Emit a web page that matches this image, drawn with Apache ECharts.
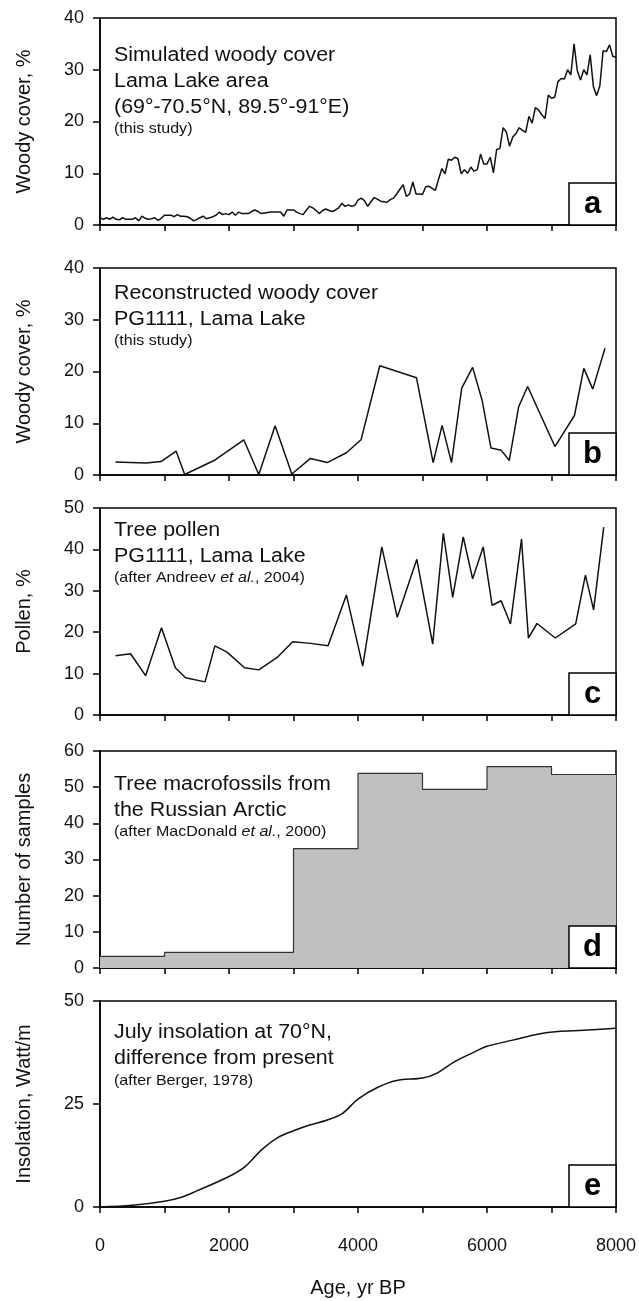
<!DOCTYPE html>
<html>
<head>
<meta charset="utf-8">
<script src="https://cdn.jsdelivr.net/npm/echarts@6/dist/echarts.min.js"></script>
<style>
html, body { margin: 0; padding: 0; background: #fff; }
#chart { width: 639px; height: 1301px; }
</style>
</head>
<body>
<div id="chart"></div>
<script>
// a: simulated woody cover (model output, 50-yr steps)
var simAge = [0, 50, 100, 150, 200, 250, 300, 350, 400, 450,
    500, 550, 600, 650, 700, 750, 800, 850, 900, 950,
    1000, 1050, 1100, 1150, 1200, 1250, 1300, 1350, 1400, 1450,
    1500, 1550, 1600, 1650, 1700, 1750, 1800, 1850, 1900, 1950,
    2000, 2050, 2100, 2150, 2200, 2250, 2300, 2350, 2400, 2450,
    2500, 2550, 2600, 2650, 2700, 2750, 2800, 2850, 2900, 2950,
    3000, 3050, 3100, 3150, 3200, 3250, 3300, 3350, 3400, 3450,
    3500, 3550, 3600, 3650, 3700, 3750, 3800, 3850, 3900, 3950,
    4000, 4050, 4100, 4150, 4200, 4250, 4300, 4350, 4400, 4450,
    4500, 4550, 4600, 4650, 4700, 4750, 4800, 4850, 4900, 4950,
    5000, 5050, 5100, 5150, 5200, 5250, 5300, 5350, 5400, 5450,
    5500, 5550, 5600, 5650, 5700, 5750, 5800, 5850, 5900, 5950,
    6000, 6050, 6100, 6150, 6200, 6250, 6300, 6350, 6400, 6450,
    6500, 6550, 6600, 6650, 6700, 6750, 6800, 6850, 6900, 6950,
    7000, 7050, 7100, 7150, 7200, 7250, 7300, 7350, 7400, 7450,
    7500, 7550, 7600, 7650, 7700, 7750, 7800, 7850, 7900, 7950,
    8000];
var simCover = [1.4, 1.1, 1.4, 1.1, 1.5, 1.1, 1.0, 1.4, 1.1, 1.1,
    1.1, 1.4, 0.8, 1.7, 1.3, 1.1, 1.2, 1.4, 0.9, 1.3,
    1.9, 1.9, 1.9, 1.6, 2.0, 1.7, 1.7, 1.6, 1.3, 0.8,
    1.1, 1.4, 1.7, 1.2, 1.4, 1.6, 1.9, 2.5, 2.0, 2.2,
    2.0, 2.5, 1.9, 2.5, 2.2, 2.2, 2.2, 2.6, 2.9, 2.6,
    2.2, 2.3, 2.4, 2.5, 2.5, 2.5, 2.5, 1.7, 2.9, 2.9,
    2.9, 2.5, 2.2, 2.0, 2.9, 3.6, 3.3, 2.8, 2.2, 2.8,
    3.1, 2.8, 2.6, 2.9, 3.3, 4.2, 3.6, 3.9, 3.6, 3.8,
    4.8, 5.2, 4.7, 3.6, 4.5, 5.3, 5.0, 4.6, 4.5, 4.4,
    4.9, 5.2, 6.0, 6.9, 7.8, 5.5, 6.0, 8.3, 6.0, 6.0,
    5.9, 7.4, 7.5, 7.1, 6.7, 8.9, 10.9, 9.9, 12.7, 12.5,
    13.1, 12.8, 9.9, 10.7, 10.0, 11.2, 10.4, 10.7, 13.7, 11.8,
    11.8, 13.1, 10.1, 14.6, 14.8, 18.8, 18.0, 15.2, 17.0, 17.7,
    18.8, 18.3, 17.9, 21.0, 19.7, 22.7, 22.2, 21.3, 20.6, 25.1,
    24.5, 24.7, 27.7, 28.3, 28.2, 30.0, 29.0, 35.0, 29.8, 28.0,
    30.0, 29.0, 32.9, 26.7, 25.0, 26.9, 33.7, 33.5, 34.8, 32.6,
    32.4];

// b: reconstructed woody cover, PG1111
var recAge = [240, 713, 947, 1181, 1313, 1768, 2229, 2462, 2715, 2974,
    3264, 3523, 3820, 4047, 4338, 4906, 5165, 5304, 5450, 5608,
    5777, 5923, 6062, 6219, 6345, 6491, 6630, 7053, 7356, 7501,
    7640, 7829];
var recCover = [2.5, 2.3, 2.6, 4.6, 0.1, 2.8, 6.8, 0.1, 9.5, 0.2,
    3.2, 2.4, 4.3, 6.8, 21.1, 18.8, 2.4, 9.6, 2.4, 16.8,
    20.8, 14.5, 5.2, 4.8, 2.8, 13.2, 17.1, 5.5, 11.5, 20.6,
    16.6, 24.5];

// c: tree pollen, PG1111
var polAge = [240, 474, 707, 953, 1168, 1326, 1629, 1781, 1970, 2241,
    2462, 2747, 2987, 3264, 3536, 3820, 4073, 4369, 4609, 4912,
    5158, 5323, 5468, 5632, 5777, 5941, 6080, 6219, 6364, 6535,
    6642, 6775, 7059, 7375, 7526, 7653, 7810];
var polPct = [14.3, 14.8, 9.5, 21.1, 11.4, 9.0, 8.0, 16.7, 15.2, 11.4,
    10.9, 13.9, 17.7, 17.3, 16.7, 29.0, 11.8, 40.6, 23.6, 37.6,
    17.1, 43.9, 28.4, 43.0, 32.9, 40.6, 26.5, 27.6, 22.0, 42.5,
    18.6, 22.1, 18.6, 22.0, 33.8, 25.4, 45.4];

// d: tree macrofossils, 1000-yr bins (bin start, count)
var binStart = [0, 1000, 2000, 3000, 4000, 5000, 6000, 7000, 8000];
var binCount = [3.2, 4.3, 4.3, 33, 53.8, 49.4, 55.7, 53.5, 53.5];

// e: July insolation at 70N, difference from present
var insAge = [0, 500, 1000, 1250, 1500, 2000, 2250, 2500, 2750, 3000,
    3250, 3500, 3750, 4000, 4300, 4600, 5000, 5200, 5500, 5800,
    6000, 6400, 6800, 7100, 7500, 8000];
var insVal = [0, 0.4, 1.4, 2.3, 3.9, 7.4, 9.8, 13.8, 16.8, 18.5,
    19.9, 21.0, 22.6, 26.2, 29.0, 30.7, 31.3, 32.3, 35.3, 37.6,
    39.0, 40.5, 42.0, 42.6, 42.9, 43.4];

var yNames = ['Woody cover, %', 'Woody cover, %', 'Pollen, %', 'Number of samples', 'Insolation, Watt/m'];
var yMax = [40, 40, 50, 60, 50];
var yStep = [10, 10, 10, 10, 25];
var xLabelValues = [0, 2000, 4000, 6000, 8000];
var panelLetters = ['a', 'b', 'c', 'd', 'e'];

var FONT = '"Liberation Sans", Arial, sans-serif';
var tops = [18, 268, 508, 751, 1001];
var heights = [207, 207, 207, 217, 206];

function pairs(xs, ys) {
    return xs.map(function (x, i) { return [x, ys[i]]; });
}

var grids = [], xAxes = [], yAxes = [];
for (var i = 0; i < 5; i++) {
    grids.push({ left: 100, right: 23, top: tops[i], height: heights[i],
        show: true, borderColor: '#000', borderWidth: 1.5, backgroundColor: 'transparent' });
    xAxes.push({
        type: 'value', gridIndex: i, min: 0, max: 8000, interval: 1000,
        axisLine: { onZero: false, lineStyle: { color: '#000', width: 1.5 } },
        axisTick: { show: true, inside: false, length: 6, lineStyle: { color: '#000', width: 1.5 } },
        splitLine: { show: false },
        axisLabel: {
            show: i === 4, margin: 30, color: '#111', fontSize: 18, fontFamily: FONT,
            formatter: function (v) { return xLabelValues.indexOf(v) >= 0 ? String(v) : ''; }
        },
        name: i === 4 ? 'Age, yr BP' : '',
        nameLocation: 'middle', nameGap: 71,
        nameTextStyle: { color: '#111', fontSize: 20, fontFamily: FONT }
    });
    yAxes.push({
        type: 'value', gridIndex: i, min: 0, max: yMax[i], interval: yStep[i],
        axisLine: { show: true, lineStyle: { color: '#000', width: 1.5 } },
        axisTick: { show: true, inside: false, length: 7, lineStyle: { color: '#000', width: 1.5 } },
        splitLine: { show: false },
        axisLabel: { margin: 16, color: '#111', fontSize: 18, fontFamily: FONT },
        name: yNames[i], nameLocation: 'middle', nameRotate: 90, nameGap: 66,
        nameTextStyle: { color: '#111', fontSize: 20, fontFamily: FONT }
    });
}

var lineStyle = { color: '#111', width: 1.5 };

var series = [
    { type: 'line', xAxisIndex: 0, yAxisIndex: 0, data: pairs(simAge, simCover),
      showSymbol: false, lineStyle: lineStyle, silent: true },
    { type: 'line', xAxisIndex: 1, yAxisIndex: 1, data: pairs(recAge, recCover),
      showSymbol: false, lineStyle: lineStyle, silent: true },
    { type: 'line', xAxisIndex: 2, yAxisIndex: 2, data: pairs(polAge, polPct),
      showSymbol: false, lineStyle: lineStyle, silent: true },
    { type: 'line', xAxisIndex: 3, yAxisIndex: 3, data: pairs(binStart, binCount),
      step: 'end', showSymbol: false, silent: true,
      lineStyle: { color: '#333', width: 1.2 },
      areaStyle: { color: '#c0c0c0', opacity: 1 } },
    { type: 'line', xAxisIndex: 4, yAxisIndex: 4, data: pairs(insAge, insVal),
      smooth: 0.35, showSymbol: false, lineStyle: lineStyle, silent: true }
];

// panel captions
var captions = [
    { top: 42, main: 'Simulated woody cover\nLama Lake area\n(69°-70.5°N, 89.5°-91°E)', smallTop: 120, small: '(this study)' },
    { top: 280, main: 'Reconstructed woody cover\nPG1111, Lama Lake', smallTop: 332, small: '(this study)' },
    { top: 517, main: 'Tree pollen\nPG1111, Lama Lake', smallTop: 569, small: '(after Andreev {i|et al.}, 2004)' },
    { top: 771, main: 'Tree macrofossils from\nthe Russian Arctic', smallTop: 823, small: '(after MacDonald {i|et al.}, 2000)' },
    { top: 1019, main: 'July insolation at 70°N,\ndifference from present', smallTop: 1072, small: '(after Berger, 1978)' }
];

var graphic = [];
captions.forEach(function (c, i) {
    graphic.push({ type: 'text', left: 114, top: c.top, z: 50, silent: true, scaleX: 1.07,
        style: { text: c.main, fontSize: 20, lineHeight: 26, fill: '#111', fontFamily: FONT } });
    graphic.push({ type: 'text', left: 114, top: c.smallTop, z: 50, silent: true, scaleX: 1.07,
        style: { text: c.small, fontSize: 15, lineHeight: 17, fill: '#111', fontFamily: FONT,
            rich: { i: { fontStyle: 'italic', fontSize: 15, fill: '#111', fontFamily: FONT } } } });
    var bottom = tops[i] + heights[i];
    graphic.push({ type: 'rect', z: 60, silent: true,
        shape: { x: 569, y: bottom - 42, width: 47, height: 42 },
        style: { fill: '#fff', stroke: '#000', lineWidth: 1.5 } });
    graphic.push({ type: 'text', z: 61, silent: true, x: 592.5, y: bottom - 21,
        style: { text: panelLetters[i], fontSize: 31, fontWeight: 'bold', fill: '#000',
            fontFamily: FONT, align: 'center', verticalAlign: 'middle' } });
});

var chart = echarts.init(document.getElementById('chart'));
chart.setOption({
    animation: false,
    backgroundColor: '#fff',
    grid: grids,
    xAxis: xAxes,
    yAxis: yAxes,
    series: series,
    graphic: graphic
});
window.onresize = function () { chart.resize(); };
</script>
</body>
</html>
